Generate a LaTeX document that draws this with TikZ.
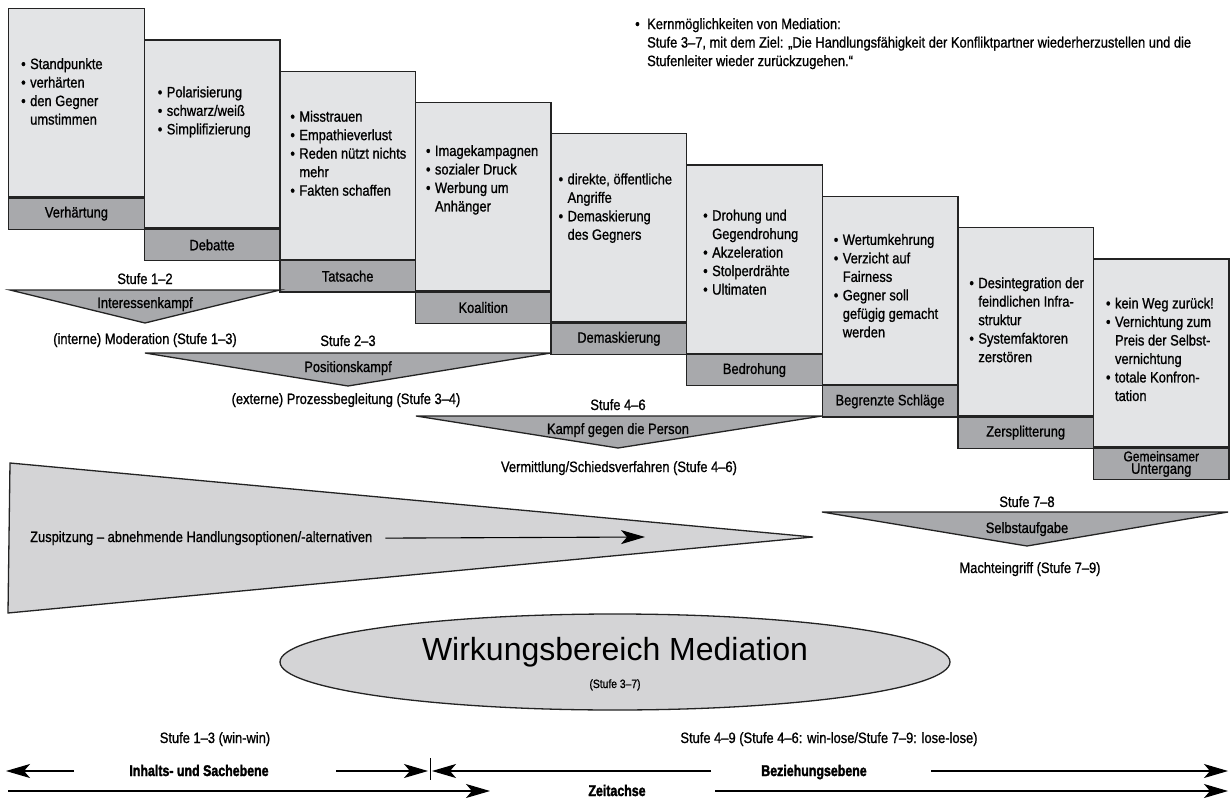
\documentclass[tikz,border=0pt]{standalone}
\usepackage{fontspec}
\setmainfont{Liberation Sans}[FakeStretch=0.86,FakeBold=1]
\newfontfamily\breitfont{Liberation Sans}
\newfontfamily\fettfont{Liberation Sans}[FakeStretch=0.8,FakeBold=2]
\usetikzlibrary{arrows.meta,shapes.geometric}

\definecolor{hellgrau}{RGB}{227,228,230}
\definecolor{mittelgrau}{RGB}{168,169,172}
\definecolor{keilgrau}{RGB}{212,212,214}
\definecolor{linie}{RGB}{35,35,35}

\newcommand{\bul}{\makebox[9pt][l]{\textbullet}}
\newcommand{\ein}{\hspace*{9pt}}

\tikzset{
  koerper/.style={draw=linie, fill=hellgrau, line width=1.3pt, minimum width=135.6pt,
    minimum height=188pt, anchor=north west, inner sep=0pt},
  leiste/.style={draw=linie, fill=mittelgrau, line width=1.3pt, minimum width=135.6pt,
    minimum height=31.3pt, anchor=north west, inner sep=0pt, align=center,
    font=\fontsize{15}{12.5}\selectfont},
  punkte/.style={anchor=north west, inner sep=0pt, align=left,
    font=\fontsize{15}{18.5}\selectfont},
  trichter/.style={draw=linie, fill=mittelgrau, line width=1.3pt},
  keil/.style={draw=linie, fill=keilgrau, line width=1.3pt},
  txt/.style={inner sep=0pt, anchor=base, font=\fontsize{15}{18.5}\selectfont},
  fett/.style={inner sep=0pt, anchor=base, font=\fettfont\bfseries\fontsize{15.5}{18}\selectfont},
  pfeil/.style={line width=1.1pt, -{Stealth[length=24pt,width=14pt,inset=6pt]}},
}

\begin{document}
\begin{tikzpicture}[x=1pt,y=-1pt]
    \useasboundingbox (0,0) rectangle (1231,805);

    % Stufen: Koerper und Leiste
    \foreach \lab [count=\i from 0] in {Verhärtung,Debatte,Tatsache,Koalition,Demaskierung,
        Bedrohung,Begrenzte Schläge,Zersplitterung,
        {\fontsize{14}{13.5}\selectfont Gemeinsamer\\Untergang}} {
        \node[koerper] (k\i) at ({8+135.6*\i},{8+31.3*\i}) {};
        \node[leiste] (s\i) at (k\i.south west) {\lab};
    }

    % Stichpunkte in den Stufen
    \node[punkte] (p0) at ([shift={(13,50)}]k0.north west)
        {\bul Standpunkte\\ \bul verhärten\\ \bul den Gegner\\ \ein umstimmen};
    \node[punkte] (p1) at ([shift={(14,47)}]k1.north west)
        {\bul Polarisierung\\ \bul schwarz/weiß\\ \bul Simplifizierung};
    \node[punkte] (p2) at ([shift={(11,40)}]k2.north west)
        {\bul Misstrauen\\ \bul Empathieverlust\\ \bul Reden nützt nichts\\ \ein mehr\\ \bul Fakten schaffen};
    \node[punkte] (p3) at ([shift={(11,43)}]k3.north west)
        {\bul Imagekampagnen\\ \bul sozialer Druck\\ \bul Werbung um\\ \ein Anhänger};
    \node[punkte] (p4) at ([shift={(8,40)}]k4.north west)
        {\bul direkte, öffentliche\\ \ein Angriffe\\ \bul Demaskierung\\ \ein des Gegners};
    \node[punkte] (p5) at ([shift={(17,45)}]k5.north west)
        {\bul Drohung und\\ \ein Gegendrohung\\ \bul Akzeleration\\ \bul Stolperdrähte\\ \bul Ultimaten};
    \node[punkte] (p6) at ([shift={(12,38)}]k6.north west)
        {\bul Wertumkehrung\\ \bul Verzicht auf\\ \ein Fairness\\ \bul Gegner soll\\ \ein gefügig gemacht\\ \ein werden};
    \node[punkte] (p7) at ([shift={(12,50)}]k7.north west)
        {\bul Desintegration der\\ \ein feindlichen Infra-\\ \ein struktur\\ \bul Systemfaktoren\\ \ein zerstören};
    \node[punkte] (p8) at ([shift={(13,39)}]k8.north west)
        {\bul kein Weg zurück!\\ \bul Vernichtung zum\\ \ein Preis der Selbst-\\ \ein vernichtung\\ \bul totale Konfron-\\ \ein tation};

    % Kernmoeglichkeiten
    \node[punkte] (kern) at (635,18)
        {\makebox[12pt][l]{\textbullet}Kernmöglichkeiten von Mediation:\\
         \hspace*{12pt}Stufe 3–7, mit dem Ziel: „Die Handlungsfähigkeit der Konfliktpartner wiederherzustellen und die\\
         \hspace*{12pt}Stufenleiter wieder zurückzugehen.“};

    % Trichter 1
    \draw[trichter] (10,290) -- (280,290) -- (145,323) -- cycle;
    \node[txt] (t1o) at (145,284) {Stufe 1–2};
    \node[txt] (t1m) at (145,308) {Interessenkampf};
    \node[txt] (t1u) at (145,344) {(interne) Moderation (Stufe 1–3)};

    % Trichter 2
    \draw[trichter] (145,353) -- (551,353) -- (348,386) -- cycle;
    \node[txt] (t2o) at (348,346) {Stufe 2–3};
    \node[txt] (t2m) at (348,372) {Positionskampf};
    \node[txt] (t2u) at (346,404) {(externe) Prozessbegleitung (Stufe 3–4)};

    % Trichter 3
    \draw[trichter] (416,416) -- (822,416) -- (618,448) -- cycle;
    \node[txt] (t3o) at (618,410) {Stufe 4–6};
    \node[txt] (t3m) at (618,434) {Kampf gegen die Person};
    \node[txt] (t3u) at (619,472) {Vermittlung/Schiedsverfahren (Stufe 4–6)};

    % Trichter 4
    \draw[trichter] (822,512) -- (1228,512) -- (1027,546) -- cycle;
    \node[txt] (t4o) at (1027,507) {Stufe 7–8};
    \node[txt] (t4m) at (1027,533) {Selbstaufgabe};
    \node[txt] (t4u) at (1030,573) {Machteingriff (Stufe 7–9)};

    % Zuspitzung
    \draw[keil] (10,463) -- (813,537) -- (8,613) -- cycle;
    \node[txt, anchor=base west] (zusp) at (30,542)
        {Zuspitzung – abnehmende Handlungsoptionen/-alternativen};
    \coordinate (zuspende) at (645,537);
    \draw[pfeil] ([xshift=13pt]zusp.east) -- (zuspende);

    % Wirkungsbereich
    \node[ellipse, draw=linie, fill=keilgrau, line width=1.3pt, minimum width=670pt,
        minimum height=96pt] (wirk) at (615,662) {};
    \node[inner sep=0pt, anchor=base, font=\breitfont\fontsize{32}{32}\selectfont]
        (wtitel) at (615,660) {Wirkungsbereich Mediation};
    \node[txt, font=\fontsize{12}{14}\selectfont] (wstufe) at (615,688) {(Stufe 3–7)};

    % Ebenen
    \node[txt] (stufeA) at (215,743) {Stufe 1–3 (win-win)};
    \node[txt] (stufeB) at (829,743) {Stufe 4–9 (Stufe 4–6: win-lose/Stufe 7–9: lose-lose)};
    \node[fett] (inhalt) at (199,776) {Inhalts- und Sachebene};
    \node[fett] (bezieh) at (814,776) {Beziehungsebene};
    \node[fett] (zeit) at (617,796) {Zeitachse};

    \coordinate (li) at (6,771);
    \coordinate (la) at (74,771);
    \coordinate (ma) at (336,771);
    \coordinate (mr) at (428,771);
    \coordinate (ml) at (432,771);
    \coordinate (mb) at (711,771);
    \coordinate (rb) at (931,771);
    \coordinate (re) at (1228,771);
    \draw[pfeil] (la) -- (li);
    \draw[pfeil] (ma) -- (mr);
    \draw[pfeil] (mb) -- (ml);
    \draw[pfeil] (rb) -- (re);
    \draw[line width=1pt] (430,758) -- (430,780);

    % Zeitachse
    \coordinate (z0) at (8,791);
    \coordinate (z1) at (490,791);
    \coordinate (z2) at (715,791);
    \coordinate (z3) at (1228,791);
    \draw[pfeil] (z0) -- (z1);
    \draw[pfeil] (z2) -- (z3);
\end{tikzpicture}
\end{document}
